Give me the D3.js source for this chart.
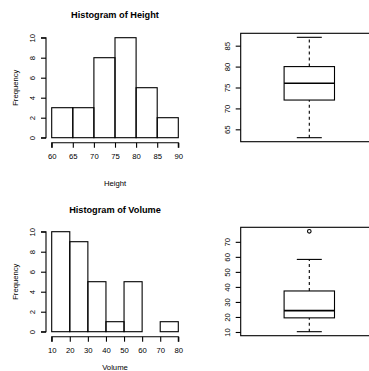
<!DOCTYPE html>
<html>
<head>
<meta charset="utf-8">
<script src="https://cdn.jsdelivr.net/npm/d3@7"></script>
<style>
  html, body { margin: 0; padding: 0; background: #fff; }
  svg { display: block; }
  text { font-family: "Liberation Sans", Arial, Helvetica, sans-serif; fill: #000; }
</style>
</head>
<body>
<svg id="chart" width="369" height="371"></svg>
<script>
// Histogram bins (Height)
const heightBreaks = [60, 65, 70, 75, 80, 85, 90];
const heightCounts = [3, 3, 8, 10, 5, 2];
// Histogram bins (Volume)
const volumeBreaks = [10, 20, 30, 40, 50, 60, 70, 80];
const volumeCounts = [10, 9, 5, 1, 5, 0, 1];
// Box plot statistics: lower whisker, Q1, median, Q3, upper whisker
const heightBox = [63, 72, 76, 80, 87];
const heightOutliers = [];
const volumeBox = [10.2, 19.4, 24.2, 37.3, 58.3];
const volumeOutliers = [77.0];
// Tick labels
const freqTicks = [0, 2, 4, 6, 8, 10];
const heightBoxTicks = [65, 70, 75, 80, 85];
const volumeBoxTicks = [10, 20, 30, 40, 50, 60, 70];

const svg = d3.select("#chart");
const FS = 7.7, TFS = 9.2;

function histogram(g, opts) {
  const { breaks, counts, title, xlab, x0, x1, yBase, yTop, axisY, yAxisX, titleY, tickLabelY, xlabY, ylabX } = opts;
  const x = d3.scaleLinear().domain([breaks[0], breaks[breaks.length - 1]]).range([x0, x1]);
  const y = d3.scaleLinear().domain([0, 10]).range([yBase, yTop]);

  // bars
  g.selectAll("rect.bar").data(counts).join("rect")
    .attr("class", "bar")
    .attr("x", (d, i) => x(breaks[i]))
    .attr("width", (d, i) => x(breaks[i + 1]) - x(breaks[i]))
    .attr("y", d => y(d))
    .attr("height", d => y(0) - y(d))
    .attr("fill", "none")
    .attr("stroke", d => d > 0 ? "#000" : "none")
    .attr("stroke-width", 1.1);

  // x axis
  const xAxis = g.append("g").attr("transform", `translate(0,${axisY})`)
    .call(d3.axisBottom(x).tickValues(breaks).tickSize(5).tickPadding(6).tickFormat(d3.format("d")));
  xAxis.select(".domain").attr("d", `M${x0},5V0H${x1}V5`).attr("stroke-width", 1.1);
  xAxis.selectAll("text").attr("font-size", FS).attr("font-family", "Liberation Sans, Arial, sans-serif");
  xAxis.selectAll("line").attr("stroke-width", 1.1);

  // y axis
  const yAxis = g.append("g").attr("transform", `translate(${yAxisX},0)`)
    .call(d3.axisLeft(y).tickValues(freqTicks).tickSize(5).tickFormat(d3.format("d")));
  yAxis.select(".domain").attr("d", `M-5,${yBase}H0V${yTop}H-5`).attr("stroke-width", 1.1);
  yAxis.selectAll("line").attr("stroke-width", 1.1);
  yAxis.selectAll(".tick text")
    .attr("font-size", FS).attr("font-family", "Liberation Sans, Arial, sans-serif")
    .attr("x", null).attr("dy", null)
    .attr("text-anchor", "middle")
    .attr("transform", "translate(-14,0) rotate(-90)")
    .attr("dominant-baseline", "central");

  g.append("text").attr("x", (x0 + x1) / 2).attr("y", titleY)
    .attr("text-anchor", "middle").attr("font-weight", "bold").attr("font-size", TFS).text(title);
  g.append("text").attr("x", (x0 + x1) / 2).attr("y", xlabY)
    .attr("text-anchor", "middle").attr("font-size", FS).text(xlab);
  g.append("text").attr("transform", `translate(${ylabX},${(yBase + yTop) / 2}) rotate(-90)`)
    .attr("text-anchor", "middle").attr("font-size", FS).attr("dominant-baseline", "central").text("Frequency");
}

function boxplot(g, opts) {
  const { stats, outliers, ticks, frameL, frameR, frameT, frameB, cx, halfW, capHalf } = opts;
  const lo = Math.min(stats[0], ...outliers), hi = Math.max(stats[4], ...outliers);
  const pad = (hi - lo) * 0.04;
  const y = d3.scaleLinear().domain([lo - pad, hi + pad]).range([frameB, frameT]);

  g.append("rect").attr("x", frameL).attr("y", frameT)
    .attr("width", frameR - frameL).attr("height", frameB - frameT)
    .attr("fill", "none").attr("stroke", "#000").attr("stroke-width", 1.1);

  // whiskers
  g.append("line").attr("x1", cx).attr("x2", cx).attr("y1", y(stats[0])).attr("y2", y(stats[1]))
    .attr("stroke", "#000").attr("stroke-dasharray", "3,3").attr("stroke-width", 1.1);
  g.append("line").attr("x1", cx).attr("x2", cx).attr("y1", y(stats[3])).attr("y2", y(stats[4]))
    .attr("stroke", "#000").attr("stroke-dasharray", "3,3").attr("stroke-width", 1.1);
  [stats[0], stats[4]].forEach(v => {
    g.append("line").attr("x1", cx - capHalf).attr("x2", cx + capHalf).attr("y1", y(v)).attr("y2", y(v))
      .attr("stroke", "#000").attr("stroke-width", 1.1);
  });
  // box
  g.append("rect").attr("x", cx - halfW).attr("y", y(stats[3]))
    .attr("width", halfW * 2).attr("height", y(stats[1]) - y(stats[3]))
    .attr("fill", "#fff").attr("stroke", "#000").attr("stroke-width", 1.1);
  g.append("line").attr("x1", cx - halfW).attr("x2", cx + halfW).attr("y1", y(stats[2])).attr("y2", y(stats[2]))
    .attr("stroke", "#000").attr("stroke-width", 1.6);
  // outliers
  g.selectAll("circle.out").data(outliers).join("circle").attr("class", "out")
    .attr("cx", cx).attr("cy", d => y(d)).attr("r", 1.8)
    .attr("fill", "none").attr("stroke", "#000").attr("stroke-width", 1.1);

  const yAxis = g.append("g").attr("transform", `translate(${frameL},0)`)
    .call(d3.axisLeft(y).tickValues(ticks).tickSize(5).tickFormat(d3.format("d")));
  yAxis.select(".domain").remove();
  yAxis.selectAll("line").attr("stroke-width", 1.1);
  yAxis.selectAll(".tick text")
    .attr("font-size", FS).attr("font-family", "Liberation Sans, Arial, sans-serif")
    .attr("x", null).attr("dy", null)
    .attr("text-anchor", "middle")
    .attr("transform", "translate(-13.5,0) rotate(-90)")
    .attr("dominant-baseline", "central");
}

histogram(svg.append("g"), {
  breaks: heightBreaks, counts: heightCounts, title: "Histogram of Height", xlab: "Height",
  x0: 51.7, x1: 178.3, yBase: 137.7, yTop: 37.7, axisY: 142.7, yAxisX: 46,
  titleY: 18.3, tickLabelY: 157, xlabY: 185.5, ylabX: 15
});
histogram(svg.append("g"), {
  breaks: volumeBreaks, counts: volumeCounts, title: "Histogram of Volume", xlab: "Volume",
  x0: 51.7, x1: 178.3, yBase: 331.7, yTop: 231.7, axisY: 336.7, yAxisX: 46,
  titleY: 212.5, tickLabelY: 351, xlabY: 370, ylabX: 15
});
boxplot(svg.append("g"), {
  stats: heightBox, outliers: heightOutliers, ticks: heightBoxTicks,
  frameL: 240.7, frameR: 378, frameT: 33.3, frameB: 141.7, cx: 309.3, halfW: 25.2, capHalf: 12.5
});
boxplot(svg.append("g"), {
  stats: volumeBox, outliers: volumeOutliers, ticks: volumeBoxTicks,
  frameL: 240.7, frameR: 378, frameT: 227.3, frameB: 335.7, cx: 309.3, halfW: 25.2, capHalf: 12.5
});
</script>
</body>
</html>
